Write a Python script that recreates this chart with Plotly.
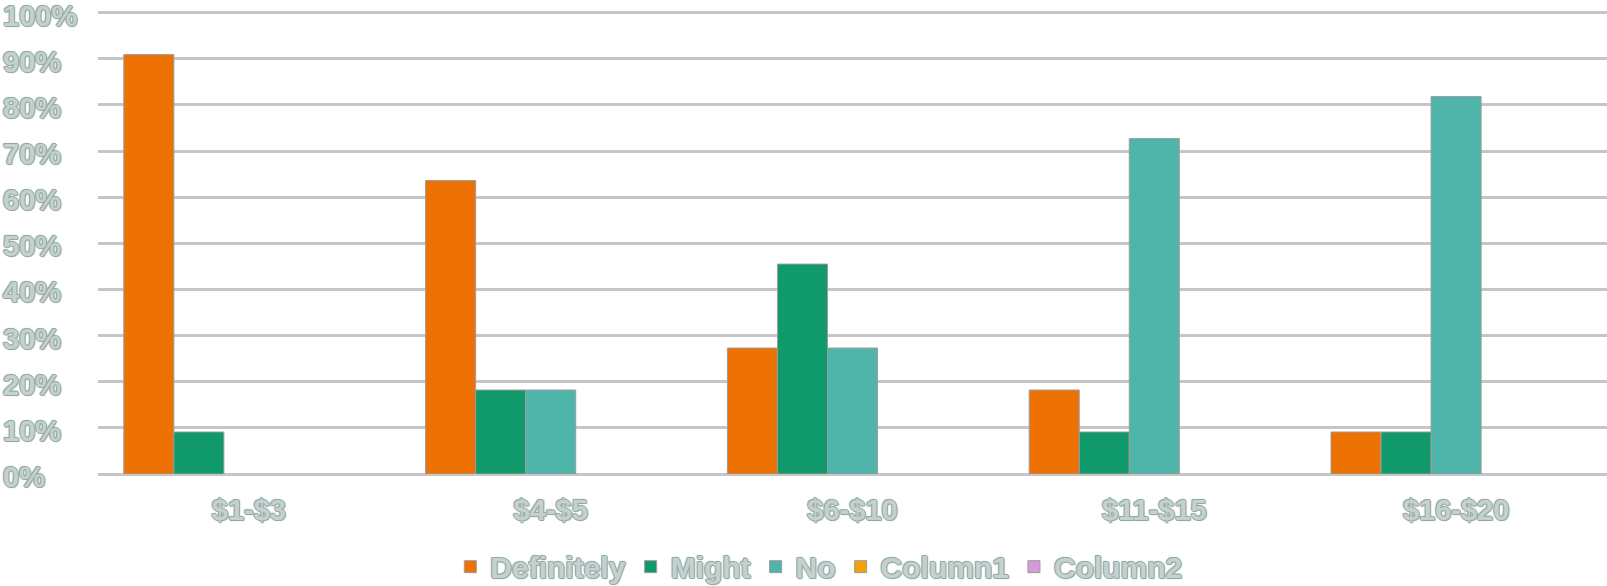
import plotly.graph_objects as go

# Price bands and share of responses per answer
categories = ["$1-$3", "$4-$5", "$6-$10", "$11-$15", "$16-$20"]
definitely = [0.909, 0.636, 0.273, 0.182, 0.091]
might = [0.091, 0.182, 0.455, 0.091, 0.091]
no = [None, 0.182, 0.273, 0.727, 0.818]
column1 = [None, None, None, None, None]
column2 = [None, None, None, None, None]

y_ticks = [0, 0.1, 0.2, 0.3, 0.4, 0.5, 0.6, 0.7, 0.8, 0.9, 1.0]
y_tick_labels = ["0%", "10%", "20%", "30%", "40%", "50%", "60%", "70%", "80%", "90%", "100%"]

series = [
    ("Definitely", definitely, "#ee7203"),
    ("Might", might, "#10996a"),
    ("No", no, "#4fb4aa"),
    ("Column1", column1, "#f5a10a"),
    ("Column2", column2, "#d49ad9"),
]

TEXT_FILL = "#c4d2cf"
TEXT_EDGE = "#97a9a5"
OUTLINE = (f"1px 0 0 {TEXT_EDGE}, -1px 0 0 {TEXT_EDGE}, 0 1px 0 {TEXT_EDGE}, "
           f"0 -1px 0 {TEXT_EDGE}, 1px 1px 1px {TEXT_EDGE}, -1px -1px 1px {TEXT_EDGE}")
FONT = dict(family="Liberation Sans, Arial, sans-serif", size=29, color=TEXT_FILL,
            weight="bold", shadow=OUTLINE)
LEGEND_FONT = dict(FONT, size=30)

fig = go.Figure()
for name, vals, color in series:
    fig.add_trace(go.Bar(
        name=name, x=categories, y=vals,
        marker=dict(color=color, line=dict(color="#9c9c9c", width=1)),
    ))

fig.update_layout(
    width=1607, height=586,
    margin=dict(l=98, r=0, t=8, b=112),
    paper_bgcolor="white", plot_bgcolor="white",
    barmode="group", bargap=0.171, bargroupgap=0,
    font=FONT,
    showlegend=True,
    legend=dict(
        orientation="h", x=0.478, xanchor="center",
        yref="container", y=0.033, yanchor="middle",
        font=LEGEND_FONT, itemwidth=30, traceorder="normal",
    ),
)

fig.update_xaxes(
    showgrid=False, showline=False, zeroline=False,
    tickfont=FONT, ticklabelstandoff=16,
)
fig.update_yaxes(
    range=[0, 1.01], tickvals=y_ticks, showticklabels=False,
    showgrid=True, gridcolor="#c6c6c6", gridwidth=3,
    zeroline=True, zerolinecolor="#c6c6c6", zerolinewidth=3,
    showline=False,
)

# Left-aligned percentage labels along the value axis
for v, lab in zip(y_ticks, y_tick_labels):
    fig.add_annotation(
        x=-0.064, xref="paper", xanchor="left",
        y=v, yref="y", yanchor="middle", yshift=-3,
        text=lab, showarrow=False, font=FONT,
    )

fig.write_html("out.html")
